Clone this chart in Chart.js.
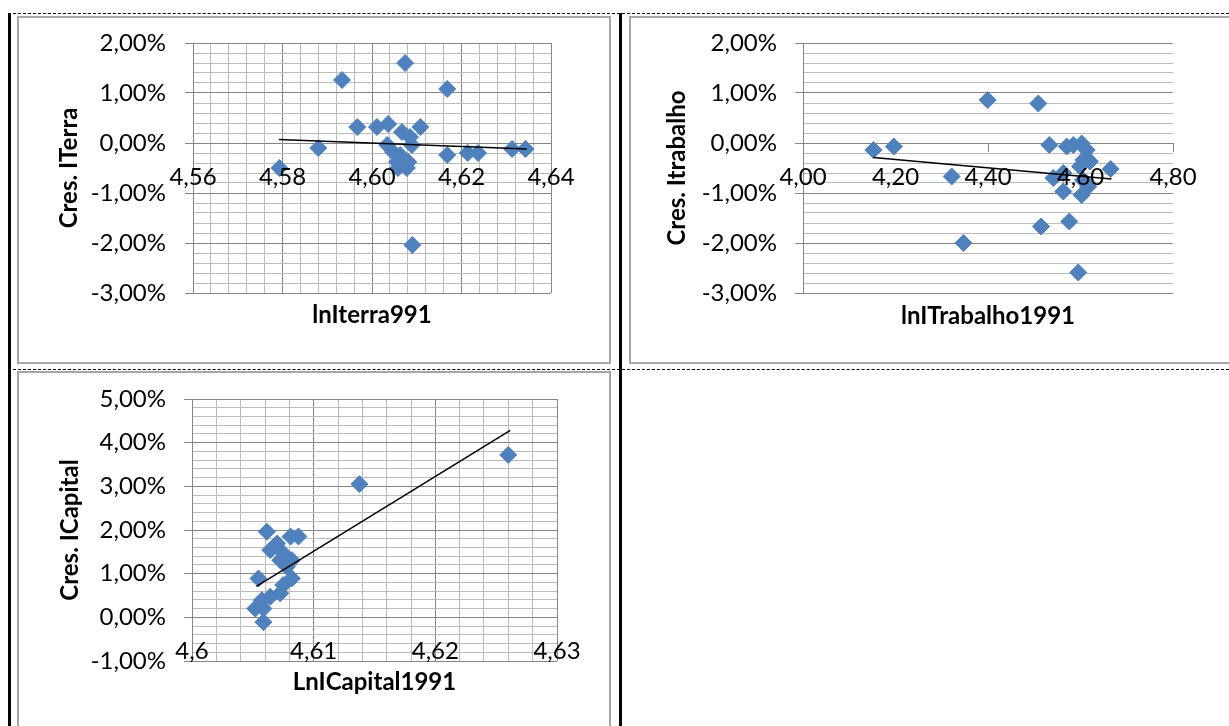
<!DOCTYPE html>
<html>
<head>
<meta charset="utf-8">
<script src="https://cdn.jsdelivr.net/npm/chart.js@4.4.1/dist/chart.umd.min.js"></script>
<style>
  body { margin: 0; background: #fff; width: 1229px; height: 726px; overflow: hidden; position: relative; }
  .hdash { position: absolute; left: 8px; width: 1221px; height: 0; border-top: 1px dashed #000; }
  .vline { position: absolute; top: 13px; width: 3px; height: 713px; background: #000; }
  .frame { position: absolute; border: 2px solid #a6a6a6; box-sizing: border-box; }
  canvas { position: absolute; }
</style>
</head>
<body>
<div class="hdash" style="top:13px"></div>
<div class="hdash" style="top:369px"></div>
<div class="vline" style="left:8px"></div>
<div class="vline" style="left:619px"></div>

<div class="frame" style="left:17px;top:16px;width:594px;height:348px"></div>
<div class="frame" style="left:629px;top:16px;width:640px;height:348px"></div>
<div class="frame" style="left:17px;top:371px;width:594px;height:400px"></div>

<canvas id="terraChart" width="590" height="344" style="left:19px;top:18px"></canvas>
<canvas id="trabChart"  width="598" height="344" style="left:631px;top:18px"></canvas>
<canvas id="capChart"   width="590" height="353" style="left:19px;top:373px"></canvas>

<script>
// ── Chart 1: Cres. ITerra vs lnIterra991 (y in %) ─────────────
const terraX = [4.5793, 4.5880, 4.5933, 4.5967, 4.6011, 4.6036, 4.6074, 4.6168, 4.6108, 4.6067,
                4.6085, 4.6034, 4.6047, 4.6063, 4.6089, 4.6056, 4.6081, 4.6078, 4.6058, 4.6090,
                4.6168, 4.6214, 4.6237, 4.6313, 4.6343];
const terraY = [-0.50, -0.10, 1.26, 0.32, 0.32, 0.38, 1.60, 1.08, 0.32, 0.22,
                 0.12, -0.04, -0.18, -0.24, -0.04, -0.38, -0.38, -0.50, -0.50, -2.04,
                -0.24, -0.20, -0.20, -0.12, -0.12];
const terraTrendX = [4.5792, 4.6346];
const terraTrendY = [0.07, -0.12];
const terraXMajor = [4.56, 4.58, 4.60, 4.62, 4.64];
const terraYMajor = [-3, -2, -1, 0, 1, 2];

// ── Chart 2: Cres. Itrabalho vs lnITrabalho1991 ───────────────
const trabX = [4.1522, 4.1963, 4.3215, 4.3994, 4.3470, 4.5088, 4.5325, 4.5702, 4.5844, 4.6026,
               4.6134, 4.6061, 4.6205, 4.5989, 4.6653, 4.5412, 4.5628, 4.5628, 4.6026, 4.6169,
               4.5146, 4.5758, 4.5952, 4.6054];
const trabY = [-0.14, -0.07, -0.67, 0.86, -2.00, 0.79, -0.04, -0.07, -0.04, -0.01,
               -0.14, -0.34, -0.37, -0.47, -0.52, -0.70, -0.60, -0.97, -1.04, -0.87,
               -1.67, -1.57, -2.59, -0.74];
const trabTrendX = [4.1522, 4.6670];
const trabTrendY = [-0.29, -0.72];
const trabXMajor = [4.00, 4.20, 4.40, 4.60, 4.80];
const trabYMajor = [-3, -2, -1, 0, 1, 2];

// ── Chart 3: Cres. ICapital vs LnICapital1991 ─────────────────
const capX = [4.62599, 4.61376, 4.60615, 4.60875, 4.60810, 4.60700, 4.60643, 4.60752, 4.60725, 4.60820,
              4.60780, 4.60546, 4.60820, 4.60750, 4.60725, 4.60643, 4.60574, 4.60520, 4.60587, 4.60587];
const capY = [3.72, 3.05, 1.96, 1.85, 1.85, 1.69, 1.54, 1.46, 1.31, 1.31,
              1.16, 0.89, 0.89, 0.74, 0.55, 0.47, 0.39, 0.20, 0.20, -0.11];
const capTrendX = [4.6053, 4.62616];
const capTrendY = [0.71, 4.28];
const capXMajor = [4.60, 4.61, 4.62, 4.63];
const capYMajor = [-1, 0, 1, 2, 3, 4, 5];

// ── Styles ────────────────────────────────────────────────────
const MAJOR = '#878787';
const MINOR = '#bcbcbc';
const AXIS  = '#868686';
const MARKER = '#4f81bd';

Chart.defaults.font.family = "Lato, 'Open Sans', sans-serif";
Chart.defaults.font.size = 24;
Chart.defaults.color = '#000';

// ── Helpers ───────────────────────────────────────────────────
function pts(xs, ys) { return xs.map((x, i) => ({ x, y: ys[i] })); }

function isMajor(v, majors) { return majors.some(m => Math.abs(m - v) < 1e-7); }

function stepTicks(min, max, step) {
  const out = [];
  const n = Math.round((max - min) / step);
  for (let i = 0; i <= n; i++) out.push(+(min + i * step).toFixed(6));
  return out;
}

const pct   = v => v.toFixed(2).replace('.', ',') + '%';
const dec2  = v => v.toFixed(2).replace('.', ',');
const plain = v => String(+v.toFixed(4)).replace('.', ',');

function makeChart(id, c) {
  const xMin = c.xMajor[0], xMax = c.xMajor[c.xMajor.length - 1];
  const yMin = c.yMajor[0], yMax = c.yMajor[c.yMajor.length - 1];
  return new Chart(document.getElementById(id), {
    type: 'scatter',
    data: {
      datasets: [
        {
          label: 'Linear',
          data: pts(c.trendX, c.trendY),
          showLine: true,
          borderColor: '#000',
          borderWidth: 1.5,
          pointRadius: 0,
        },
        {
          label: 'Cres.',
          data: pts(c.x, c.y),
          pointStyle: 'rectRot',
          pointRadius: 8.5,
          backgroundColor: MARKER,
          borderColor: MARKER,
          borderWidth: 1,
        },
      ],
    },
    options: {
      responsive: false,
      animation: false,
      layout: { padding: { left: 0, right: c.padRight, top: c.padTop, bottom: 0 } },
      plugins: { legend: { display: false }, tooltip: { enabled: false } },
      scales: {
        x: {
          type: 'linear',
          position: { y: 0 },
          min: xMin, max: xMax,
          afterBuildTicks: s => { s.ticks = stepTicks(xMin, xMax, c.xMinor).map(value => ({ value })); },
          grid: {
            color: ctx => !c.xGrid ? 'rgba(0,0,0,0)'
                        : (ctx.tick && !isMajor(ctx.tick.value, c.xMajor) ? MINOR : MAJOR),
            tickColor: ctx => ctx.tick && isMajor(ctx.tick.value, c.xMajor) ? AXIS : 'rgba(0,0,0,0)',
            tickLength: 8,
          },
          border: { color: AXIS, width: 1 },
          ticks: {
            autoSkip: false, maxRotation: 0, padding: c.xPad, z: 1,
            callback: v => isMajor(v, c.xMajor) ? c.xFmt(v) : '',
          },
        },
        x2: {
          type: 'linear',
          position: 'bottom',
          afterFit: s => { s.height = c.x2Height; },
          grid: { display: false },
          border: { display: false },
          ticks: { display: false },
          title: {
            display: true, text: c.xTitle, color: '#000',
            font: { size: 24, weight: 'bold' },
            padding: { top: 0, bottom: c.xTitlePad },
          },
        },
        y: {
          type: 'linear',
          position: 'left',
          min: yMin, max: yMax,
          afterBuildTicks: s => { s.ticks = stepTicks(yMin, yMax, c.yMinor).map(value => ({ value })); },
          afterFit: s => { s.width = c.yWidth; s.paddingTop = 0; s.paddingBottom = 0; },
          grid: {
            color: ctx => ctx.tick && !isMajor(ctx.tick.value, c.yMajor) ? MINOR : MAJOR,
            tickColor: ctx => ctx.tick && isMajor(ctx.tick.value, c.yMajor) ? AXIS : 'rgba(0,0,0,0)',
            tickLength: 8,
          },
          border: { color: AXIS, width: 1 },
          ticks: {
            autoSkip: false, padding: c.yPad,
            callback: v => isMajor(v, c.yMajor) ? pct(v) : '',
          },
          title: {
            display: true, text: c.yTitle, color: '#000',
            font: { size: 24, weight: 'bold' },
            padding: { top: c.yTitlePad, bottom: 0 },
          },
        },
      },
    },
  });
}

// ── Build charts ──────────────────────────────────────────────
makeChart('terraChart', {
  x: terraX, y: terraY, trendX: terraTrendX, trendY: terraTrendY,
  xMajor: terraXMajor, xMinor: 0.004, yMajor: terraYMajor, yMinor: 0.2,
  xGrid: true, xFmt: dec2,
  xTitle: 'lnIterra991', yTitle: 'Cres. ITerra',
  yWidth: 174, padRight: 58, padTop: 25, x2Height: 69,
  xPad: 12, yPad: 19, yTitlePad: 36, xTitlePad: 32,
});

makeChart('trabChart', {
  x: trabX, y: trabY, trendX: trabTrendX, trendY: trabTrendY,
  xMajor: trabXMajor, xMinor: 0.2, yMajor: trabYMajor, yMinor: 0.2,
  xGrid: false, xFmt: dec2,
  xTitle: 'lnITrabalho1991', yTitle: 'Cres. Itrabalho',
  yWidth: 172, padRight: 56, padTop: 25, x2Height: 69,
  xPad: 12, yPad: 18, yTitlePad: 32, xTitlePad: 31,
});

makeChart('capChart', {
  x: capX, y: capY, trendX: capTrendX, trendY: capTrendY,
  xMajor: capXMajor, xMinor: 0.002, yMajor: capYMajor, yMinor: 0.2,
  xGrid: true, xFmt: plain,
  xTitle: 'LnICapital1991', yTitle: 'Cres. ICapital',
  yWidth: 173, padRight: 52, padTop: 26, x2Height: 65,
  xPad: 12, yPad: 18, yTitlePad: 37, xTitlePad: 29,
});
</script>
</body>
</html>
